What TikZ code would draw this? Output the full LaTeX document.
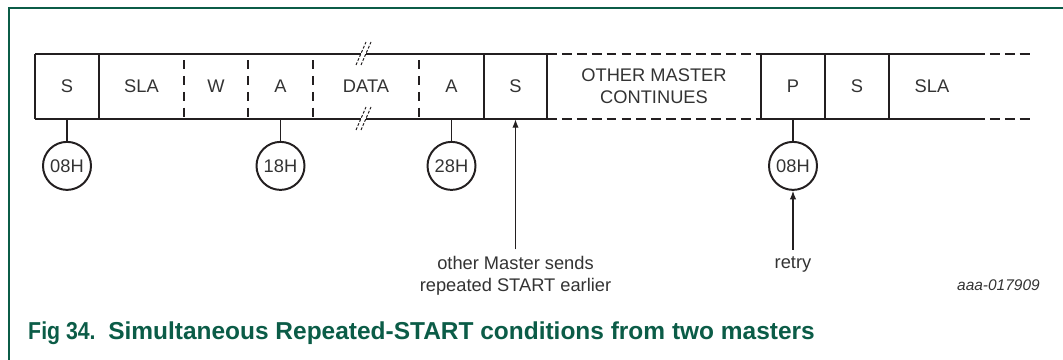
\documentclass[tikz,border=0pt]{standalone}
\usepackage{fontspec}
\setmainfont{Liberation Sans}
\usetikzlibrary{arrows.meta,positioning,calc}
\definecolor{cFrame}{HTML}{0B5C47}
\definecolor{cInk}{HTML}{231F20}
\definecolor{cText}{HTML}{333333}
\tikzset{
  cell/.style={minimum height=1.625cm,inner sep=0pt,align=center,font=\fontsize{13}{15.5}\selectfont,text=cText},
  code/.style={circle,draw=cInk,line width=1.4pt,minimum size=1.2cm,inner sep=0pt,font=\fontsize{13}{15.5}\selectfont,text=cText},
  bar/.style={cInk,line width=1.4pt},
  hdash/.style={cInk,line width=1.4pt,dash pattern=on 7pt off 3.6pt},
  vdash/.style={cInk,line width=1.4pt,dash pattern=on 6.3pt off 5pt,dash phase=7pt},
  brk/.style={cInk,line width=0.7pt,dash pattern=on 2pt off 1.2pt},
  stub/.style={cInk,line width=0.8pt},
  arr/.style={-{Latex[length=6pt,width=4.5pt]},cInk,line width=0.8pt},
  note/.style={align=center,font=\fontsize{13}{15.5}\selectfont,text=cText,inner xsep=0pt,inner ysep=5pt},
  capt/.style={font=\fontsize{17.4}{20}\selectfont\bfseries,text=cFrame,inner sep=0pt,anchor=base west},
}

\begin{document}
\begin{tikzpicture}[x=0.025cm,y=-0.025cm]
  \useasboundingbox (0,0) rectangle (1063,360);
  \draw[cFrame,line width=1.1pt] (9,360) -- (9,8) -- (1063,8);

  % frame of the bus sequence
  \draw[bar] (35,54) -- (361,54) (366,54) -- (547,54) (35,119) -- (361,119) (366,119) -- (547,119);
  \draw[hdash] (547,54) -- (761,54) (547,119) -- (761,119);
  \draw[bar] (761,54) -- (975,54) (761,119) -- (975,119);
  \draw[hdash] (975,54) -- (1034,54) (975,119) -- (1034,119);
  \foreach \x in {35,99,484,547,761,825,889}
    \draw[bar] (\x,54) -- (\x,119);
  \foreach \x in {184,248,313,419}
    \draw[vdash] (\x,54) -- (\x,119);
  \draw[brk] (356,65) -- (366,42) (361,65) -- (371,42);
  \draw[brk] (356,130) -- (366,107) (361,130) -- (371,107);

  \foreach \n/\xa/\xb/\t in {s1/35/99/S, sla1/99/184/SLA, w/184/248/W, a1/248/313/A, data/313/419/DATA, a2/419/484/A, s2/484/547/S, omc/547/761/{OTHER MASTER\\CONTINUES}, p/761/825/P, s3/825/889/S, sla2/889/975/SLA}
    \node[cell,minimum width={(\xb-\xa)*0.025cm}] (\n) at ({(\xa+\xb)/2},86.5) {\t};

  \foreach \n/\c/\t in {c1/s1/08H, c2/a1/18H, c3/a2/28H, c4/p/08H}{
    \node[code,below=0.54cm of \c] (\n) {\t};
    \draw[stub] (\c.south) -- (\n.north);}

  \node[note,below=3.25cm of s2] (rs) {other Master sends\\repeated START earlier};
  \node[note,below=1.47cm of c4] (retry) {retry};
  \draw[arr] (rs.north) -- (s2.south);
  \draw[arr] (retry.north) -- (c4.south);

  \node[font=\fontsize{11}{13}\selectfont\itshape,text=cText,inner sep=0pt,anchor=base east] (ref) at (1040,290) {aaa-017909};

  \node[capt,xscale=0.87] (fig) at (28,339) {Fig 34.};
  \node[capt] (title) at (108,339) {Simultaneous Repeated-START conditions from two masters};
\end{tikzpicture}
\end{document}
